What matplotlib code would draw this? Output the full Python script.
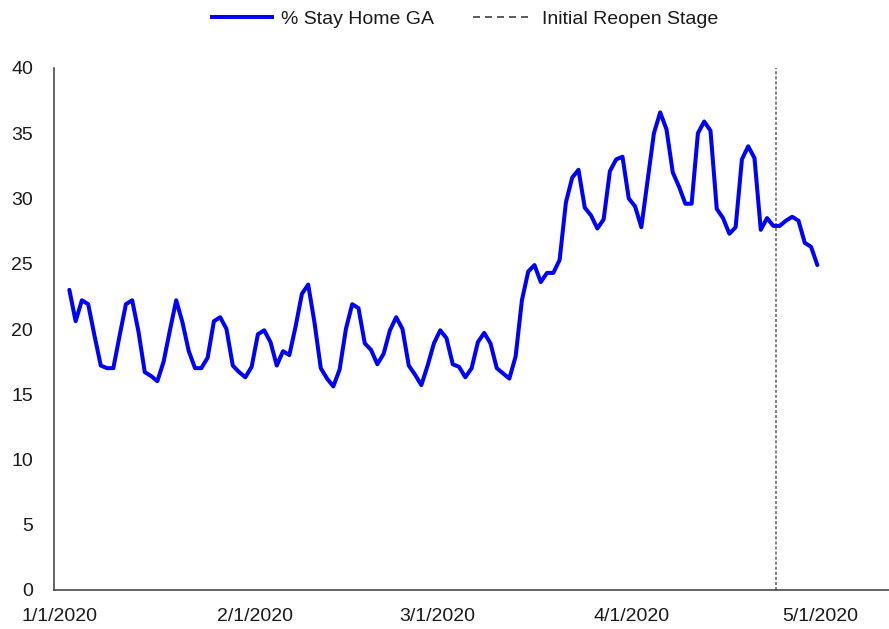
import numpy as np
import matplotlib
matplotlib.use("Agg")
import matplotlib.pyplot as plt
import matplotlib.dates as mdates
from matplotlib.lines import Line2D

plt.rcParams['font.family'] = ['Liberation Sans', 'DejaVu Sans']

# Daily share of Georgia residents staying home (%), starting 2 Jan 2020
start_date = np.datetime64('2020-01-02')
stay_home_ga = [
    23.0, 20.6, 22.2, 21.9, 19.5, 17.2, 17.0, 17.0, 19.5, 21.9,
    22.2, 19.8, 16.7, 16.4, 16.0, 17.5, 19.9, 22.2, 20.5, 18.3,
    17.0, 17.0, 17.8, 20.6, 20.9, 20.0, 17.2, 16.7, 16.3, 17.1,
    19.6, 19.9, 19.0, 17.2, 18.3, 18.0, 20.2, 22.7, 23.4, 20.5,
    17.0, 16.2, 15.6, 16.9, 20.0, 21.9, 21.6, 18.9, 18.4, 17.3,
    18.1, 19.9, 20.9, 20.0, 17.2, 16.5, 15.7, 17.2, 18.9, 19.9,
    19.3, 17.3, 17.1, 16.3, 17.0, 19.0, 19.7, 18.9, 17.0, 16.6,
    16.2, 17.9, 22.2, 24.4, 24.9, 23.6, 24.3, 24.3, 25.3, 29.7,
    31.6, 32.2, 29.3, 28.7, 27.7, 28.4, 32.1, 33.0, 33.2, 30.0,
    29.4, 27.8, 31.4, 35.0, 36.6, 35.3, 32.0, 30.9, 29.6, 29.6,
    35.0, 35.9, 35.2, 29.2, 28.5, 27.3, 27.8, 33.0, 34.0, 33.1,
    27.6, 28.5, 27.9, 27.9, 28.3, 28.6, 28.3, 26.6, 26.3, 24.9,
]
reopen_date = np.datetime64('2020-04-24')

series_label = '% Stay Home GA'
reopen_label = 'Initial Reopen Stage'

tick_dates = ['2020-01-01', '2020-02-01', '2020-03-01', '2020-04-01', '2020-05-01']
tick_labels = ['1/1/2020', '2/1/2020', '3/1/2020', '4/1/2020', '5/1/2020']
y_ticks = [0, 5, 10, 15, 20, 25, 30, 35, 40]

# Each daily value sits in the middle of its day
days = start_date + np.arange(len(stay_home_ga)).astype('timedelta64[D]')
x = mdates.date2num(days) + 0.5
x_reopen = mdates.date2num(reopen_date)

fig = plt.figure(figsize=(8.89, 6.29), dpi=100)
ax = fig.add_axes([54 / 889, 39 / 629, (889 - 54) / 889, 522 / 629])

ax.plot(x, stay_home_ga, color='#0000ff', lw=2.9,
        solid_joinstyle='round', solid_capstyle='round', zorder=3)
ax.axvline(x_reopen, color='#7a7a7a', lw=1.3, dashes=(1.7, 1.1), zorder=2)

jan1 = mdates.date2num(np.datetime64('2020-01-01'))
ax.set_xlim(jan1 - 0.94, jan1 + 131.9)
ax.set_ylim(0, 40)

ax.set_yticks(y_ticks)
ax.set_yticklabels([str(v) for v in y_ticks])
ax.set_xticks([mdates.date2num(np.datetime64(d)) for d in tick_dates])
ax.set_xticklabels(tick_labels)

ax.tick_params(axis='both', length=0, labelsize=14, colors='#1a1a1a')
ax.tick_params(axis='x', pad=13)
ax.tick_params(axis='y', pad=15)

for side in ('top', 'right'):
    ax.spines[side].set_visible(False)
for side in ('left', 'bottom'):
    ax.spines[side].set_color('#3a3a3a')
    ax.spines[side].set_linewidth(1.1)

handles = [
    Line2D([], [], color='#0000ff', lw=2.9),
    Line2D([], [], color='#404040', lw=1.2, dashes=(4.2, 3.0)),
]
fig.legend(handles, [series_label, reopen_label], loc='center',
           bbox_to_anchor=(0.523, 0.970), ncol=2, frameon=False,
           fontsize=14, handlelength=3.1, handletextpad=0.45,
           columnspacing=2.0, labelcolor='#1a1a1a')

fig.savefig('out.png', dpi=100)
